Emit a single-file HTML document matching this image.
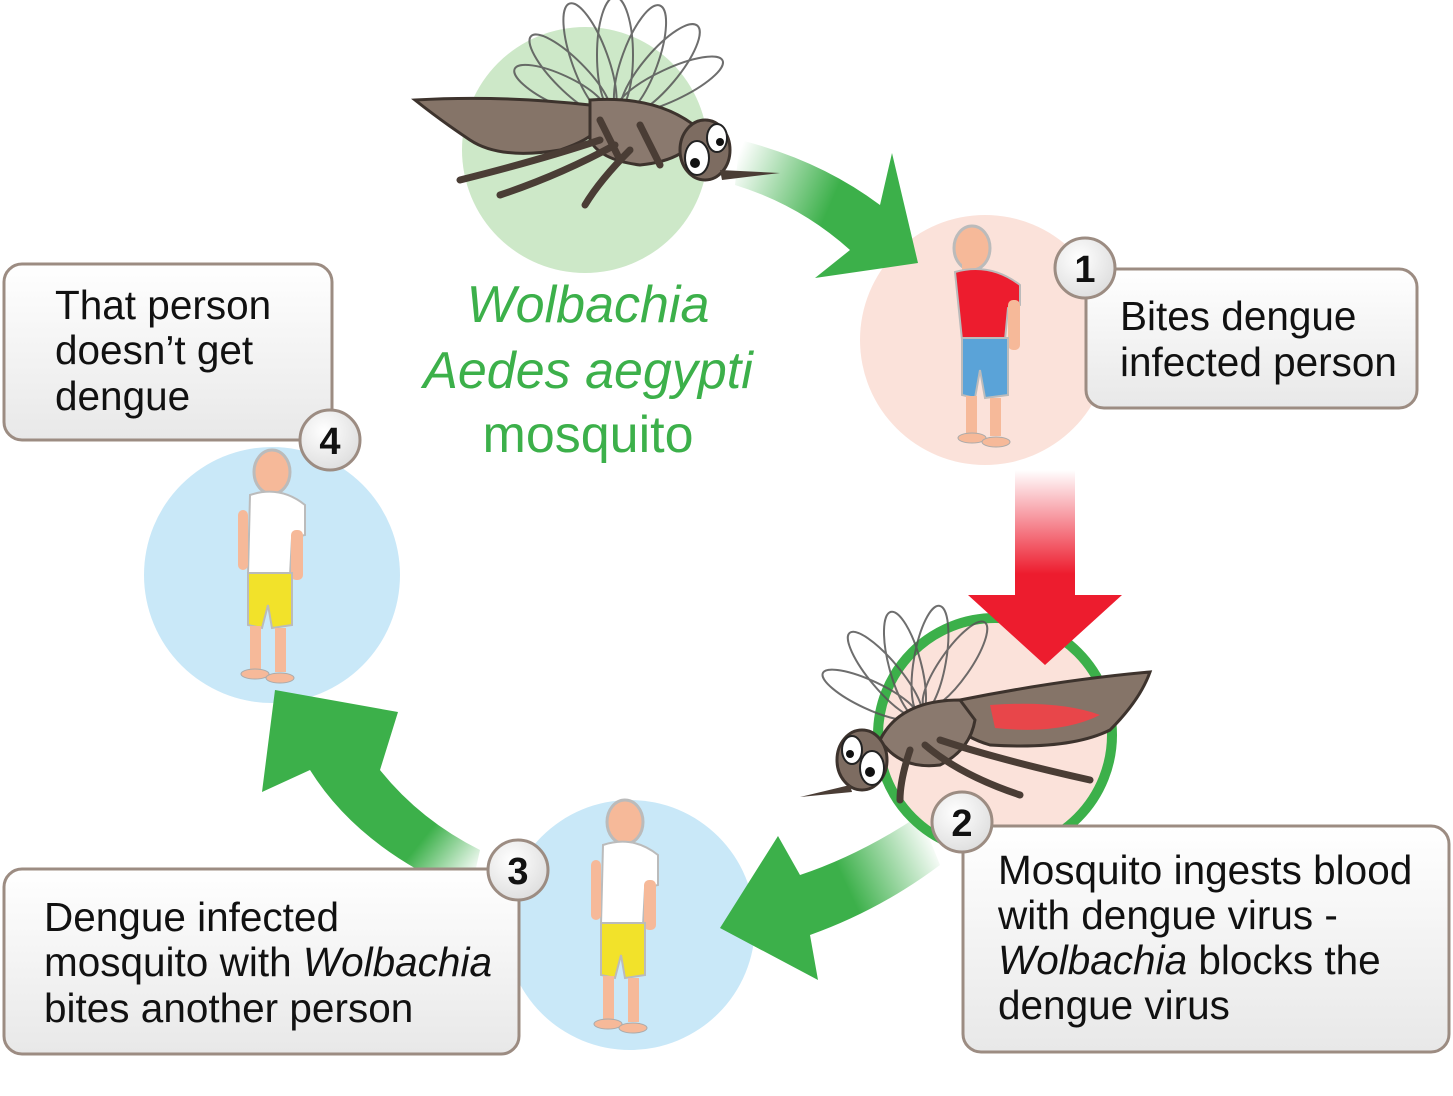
<!DOCTYPE html>
<html><head><meta charset="utf-8"><style>
html,body{margin:0;padding:0;background:#fff;}
svg{display:block;}
text{font-family:"Liberation Sans",Arial,sans-serif;}
</style></head><body>
<svg width="1453" height="1096" viewBox="0 0 1453 1096" xmlns="http://www.w3.org/2000/svg">
<defs>
<linearGradient id="box" x1="0" y1="0" x2="0" y2="1"><stop offset="0" stop-color="#ffffff"/><stop offset="1" stop-color="#e8e8e8"/></linearGradient>
<linearGradient id="g1" x1="740" y1="150" x2="900" y2="220" gradientUnits="userSpaceOnUse"><stop offset="0" stop-color="#3cb04a" stop-opacity="0"/><stop offset="0.6" stop-color="#3cb04a"/></linearGradient>
<linearGradient id="g2" x1="930" y1="830" x2="780" y2="900" gradientUnits="userSpaceOnUse"><stop offset="0" stop-color="#3cb04a" stop-opacity="0"/><stop offset="0.6" stop-color="#3cb04a"/></linearGradient>
<linearGradient id="g3" x1="480" y1="870" x2="380" y2="790" gradientUnits="userSpaceOnUse"><stop offset="0" stop-color="#3cb04a" stop-opacity="0"/><stop offset="0.5" stop-color="#3cb04a"/></linearGradient>
<linearGradient id="r1" x1="0" y1="470" x2="0" y2="600" gradientUnits="userSpaceOnUse"><stop offset="0" stop-color="#ed1c2e" stop-opacity="0"/><stop offset="0.8" stop-color="#ed1c2e"/></linearGradient>
<radialGradient id="badge" cx="0.4" cy="0.35" r="0.7"><stop offset="0" stop-color="#fff"/><stop offset="1" stop-color="#ddd"/></radialGradient>
</defs>

<circle cx="585" cy="150" r="123" fill="#cde8c8"/>
<circle cx="985" cy="340" r="125" fill="#fbe2da"/>
<circle cx="995" cy="735" r="117" fill="#fbe2da" stroke="#3cb04a" stroke-width="10"/>
<circle cx="630" cy="925" r="125" fill="#c9e8f8"/>
<circle cx="272" cy="575" r="128" fill="#c9e8f8"/>

<path d="M740 140 Q820 160 880 205 L892 153 L918 263 L815 278 L850 250 Q800 205 735 185 Z" fill="url(#g1)"/>
<path d="M1015 470 L1075 470 L1075 595 L1122 595 L1045 665 L968 595 L1015 595 Z" fill="url(#r1)"/>
<path d="M920 815 Q860 855 800 875 L778 836 L720 928 L818 980 L810 935 Q880 910 940 865 Z" fill="url(#g2)"/>
<path d="M480 850 Q420 820 380 770 L398 712 L275 690 L262 792 L310 770 Q360 850 470 895 Z" fill="url(#g3)"/>

<g stroke="#555" stroke-width="2" fill="none" opacity="0.85">
<ellipse cx="590" cy="60" rx="18" ry="60" transform="rotate(-20 590 60)"/>
<ellipse cx="615" cy="55" rx="18" ry="58"/>
<ellipse cx="640" cy="60" rx="18" ry="58" transform="rotate(20 640 60)"/>
<ellipse cx="660" cy="70" rx="18" ry="58" transform="rotate(40 660 70)"/>
<ellipse cx="670" cy="85" rx="16" ry="58" transform="rotate(65 670 85)"/>
<ellipse cx="570" cy="75" rx="16" ry="55" transform="rotate(-45 570 75)"/>
<ellipse cx="560" cy="90" rx="15" ry="50" transform="rotate(-65 560 90)"/>
</g>
<path d="M415 100 Q500 95 590 105 Q620 130 560 150 Q500 160 470 140 Q440 120 415 100 Z" fill="#857468" stroke="#3d332d" stroke-width="3"/>
<path d="M590 100 Q660 95 700 130 Q690 160 640 165 Q600 160 590 140 Z" fill="#8a796e" stroke="#3d332d" stroke-width="3"/>
<g stroke="#4a3d35" stroke-width="7" fill="none" stroke-linecap="round">
<path d="M600 140 Q540 160 460 180"/><path d="M615 145 Q560 175 500 195"/><path d="M630 150 Q600 180 585 205"/>
<path d="M600 120 L620 160"/><path d="M640 125 L660 165"/></g>
<ellipse cx="705" cy="150" rx="25" ry="30" fill="#7d6c61" stroke="#3d332d" stroke-width="3"/>
<ellipse cx="697" cy="158" rx="12" ry="17" fill="#fff" stroke="#222" stroke-width="2"/><circle cx="695" cy="163" r="5" fill="#111"/>
<ellipse cx="717" cy="138" rx="10" ry="14" fill="#fff" stroke="#222" stroke-width="2"/><circle cx="720" cy="142" r="4" fill="#111"/>
<path d="M720 170 L780 173 L722 180 Z" fill="#4a3d35"/>

<g stroke="#555" stroke-width="2" fill="none" opacity="0.85">
<ellipse cx="930" cy="660" rx="16" ry="55" transform="rotate(10 930 660)"/>
<ellipse cx="905" cy="665" rx="16" ry="55" transform="rotate(-15 905 665)"/>
<ellipse cx="885" cy="675" rx="15" ry="55" transform="rotate(-40 885 675)"/>
<ellipse cx="870" cy="695" rx="14" ry="52" transform="rotate(-65 870 695)"/>
<ellipse cx="955" cy="665" rx="15" ry="52" transform="rotate(35 955 665)"/>
</g>
<path d="M1150 672 Q1060 680 960 700 Q940 730 990 745 Q1070 750 1110 730 Q1140 700 1150 672 Z" fill="#857468" stroke="#3d332d" stroke-width="3"/>
<path d="M990 705 Q1060 700 1100 715 Q1060 735 995 728 Z" fill="#e8464a"/>
<path d="M960 700 Q900 700 880 740 Q900 770 940 765 Q970 750 975 720 Z" fill="#8a796e" stroke="#3d332d" stroke-width="3"/>
<g stroke="#4a3d35" stroke-width="7" fill="none" stroke-linecap="round">
<path d="M940 740 Q1000 760 1090 780"/><path d="M925 745 Q960 775 1020 795"/><path d="M910 750 Q900 780 900 800"/></g>
<ellipse cx="862" cy="760" rx="25" ry="30" fill="#7d6c61" stroke="#3d332d" stroke-width="3"/>
<ellipse cx="872" cy="768" rx="12" ry="17" fill="#fff" stroke="#222" stroke-width="2"/><circle cx="870" cy="772" r="5" fill="#111"/>
<ellipse cx="852" cy="750" rx="10" ry="14" fill="#fff" stroke="#222" stroke-width="2"/><circle cx="850" cy="754" r="4" fill="#111"/>
<path d="M850 785 L800 797 L852 792 Z" fill="#4a3d35"/>

<g>
<ellipse cx="972" cy="248" rx="18" ry="22" fill="#f6b999" stroke="#bbb" stroke-width="3"/>
<rect x="962" y="262" width="14" height="12" fill="#f6b999"/>
<path d="M955 272 Q990 262 1020 285 L1020 305 L1008 308 L1005 340 L962 340 Z" fill="#ed1c2e" stroke="#bbb" stroke-width="2"/>
<rect x="1008" y="300" width="12" height="50" rx="5" fill="#f6b999"/>
<path d="M962 338 L1008 338 L1008 395 L985 398 L980 370 L975 398 L962 395 Z" fill="#5aa3d8" stroke="#bbb" stroke-width="2"/>
<rect x="966" y="396" width="11" height="38" fill="#f6b999"/><rect x="990" y="398" width="11" height="38" fill="#f6b999"/>
<ellipse cx="972" cy="438" rx="14" ry="5" fill="#f6b999" stroke="#aaa"/><ellipse cx="996" cy="442" rx="14" ry="5" fill="#f6b999" stroke="#aaa"/>
</g>
<g>
<ellipse cx="272" cy="472" rx="18" ry="22" fill="#f6b999" stroke="#bbb" stroke-width="3"/>
<path d="M250 495 Q280 485 305 505 L305 535 L292 538 L290 575 L248 575 Z" fill="#fff" stroke="#bbb" stroke-width="2"/>
<rect x="291" y="530" width="12" height="50" rx="5" fill="#f6b999"/><rect x="238" y="510" width="10" height="60" rx="5" fill="#f6b999"/>
<path d="M248 573 L292 573 L292 625 L272 628 L268 605 L262 628 L248 625 Z" fill="#f2e22a" stroke="#bbb" stroke-width="2"/>
<rect x="250" y="626" width="11" height="44" fill="#f6b999"/><rect x="275" y="628" width="11" height="44" fill="#f6b999"/>
<ellipse cx="255" cy="674" rx="14" ry="5" fill="#f6b999" stroke="#aaa"/><ellipse cx="280" cy="678" rx="14" ry="5" fill="#f6b999" stroke="#aaa"/>
</g>
<g>
<ellipse cx="625" cy="822" rx="18" ry="22" fill="#f6b999" stroke="#bbb" stroke-width="3"/>
<path d="M603 845 Q633 835 658 855 L658 885 L645 888 L643 925 L601 925 Z" fill="#fff" stroke="#bbb" stroke-width="2"/>
<rect x="644" y="880" width="12" height="50" rx="5" fill="#f6b999"/><rect x="591" y="860" width="10" height="60" rx="5" fill="#f6b999"/>
<path d="M601 923 L645 923 L645 975 L625 978 L621 955 L615 978 L601 975 Z" fill="#f2e22a" stroke="#bbb" stroke-width="2"/>
<rect x="603" y="976" width="11" height="44" fill="#f6b999"/><rect x="628" y="978" width="11" height="44" fill="#f6b999"/>
<ellipse cx="608" cy="1024" rx="14" ry="5" fill="#f6b999" stroke="#aaa"/><ellipse cx="633" cy="1028" rx="14" ry="5" fill="#f6b999" stroke="#aaa"/>
</g>

<g fill="#3cb04a" font-size="52" text-anchor="middle">
<text x="588" y="322" font-style="italic">Wolbachia</text>
<text x="588" y="388" font-style="italic">Aedes aegypti</text>
<text x="588" y="452">mosquito</text>
</g>

<g fill="url(#box)" stroke="#9c8c82" stroke-width="3">
<rect x="1086" y="269" width="331" height="139" rx="18"/>
<rect x="963" y="826" width="486" height="226" rx="18"/>
<rect x="4" y="869" width="515" height="185" rx="18"/>
<rect x="4" y="264" width="328" height="176" rx="18"/>
</g>
<g font-size="40.5" fill="#111">
<text x="1120" y="330">Bites dengue</text>
<text x="1120" y="376">infected person</text>
<text x="998" y="884">Mosquito ingests blood</text>
<text x="998" y="929">with dengue virus -</text>
<text x="998" y="974"><tspan font-style="italic">Wolbachia</tspan> blocks the</text>
<text x="998" y="1019">dengue virus</text>
<text x="44" y="931">Dengue infected</text>
<text x="44" y="976">mosquito with <tspan font-style="italic">Wolbachia</tspan></text>
<text x="44" y="1022">bites another person</text>
<text x="55" y="319">That person</text>
<text x="55" y="364">doesn’t get</text>
<text x="55" y="410">dengue</text>
</g>

<g stroke="#9c8c82" stroke-width="3" fill="url(#badge)">
<circle cx="1085" cy="268" r="30"/><circle cx="962" cy="822" r="30"/>
<circle cx="518" cy="870" r="30"/><circle cx="330" cy="440" r="30"/>
</g>
<g font-size="38" font-weight="bold" text-anchor="middle" fill="#111">
<text x="1085" y="282">1</text><text x="962" y="836">2</text>
<text x="518" y="884">3</text><text x="330" y="454">4</text>
</g>
</svg>
</body></html>
